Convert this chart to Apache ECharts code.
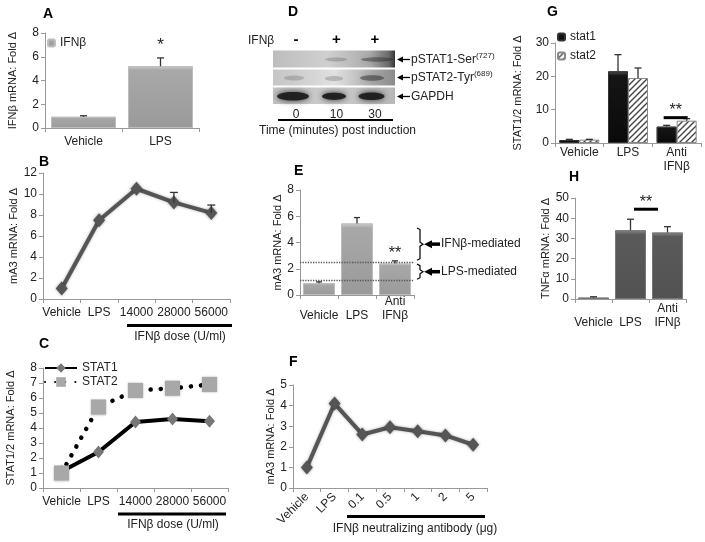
<!DOCTYPE html>
<html>
<head>
<meta charset="UTF-8">
<title>IFNb figure</title>
<script src="https://cdn.jsdelivr.net/npm/echarts@6/dist/echarts.min.js"></script>
<style>
  html, body { margin: 0; padding: 0; background: #fff; }
  #main { width: 705px; height: 542px; }
</style>
</head>
<body>
<div id="main"></div>
<script>
// ---- data ----
var aCats = ['Vehicle', 'LPS'];
var aVals = [0.95, 5.2];
var aErr = [1.03, 5.9];

var doseCats = ['Vehicle', 'LPS', '14000', '28000', '56000'];
var bVals = [1.0, 7.5, 10.5, 9.2, 8.2];
var bErr = [null, null, null, 10.15, 8.95];

var cStat1 = [1.1, 2.4, 4.4, 4.6, 4.45];
var cStat2 = [1.0, 5.4, 6.5, 6.65, 6.9];

var eCats = ['Vehicle', 'LPS', 'Anti IFNβ'];
var eVals = [0.9, 5.45, 2.4];
var eErr = [1.0, 5.9, 2.6];
var eRefs = [2.5, 1.1];

var fCats = ['Vehicle', 'LPS', '0.1', '0.5', '1', '2', '5'];
var fVals = [1.0, 4.1, 2.6, 2.95, 2.75, 2.55, 2.1];

var gCats = ['Vehicle', 'LPS', 'Anti IFNβ'];
var gStat1 = [0.9, 21.5, 4.9];
var gStat1Err = [1.1, 26.5, 5.3];
var gStat2 = [1.0, 19.5, 6.7];
var gStat2Err = [1.1, 22.5, 7.3];

var hCats = ['Vehicle', 'LPS', 'Anti IFNβ'];
var hVals = [0.7, 34, 32.9];
var hErr = [1.1, 39.5, 35.8];

var blotTimes = ['0', '10', '30'];
var blotSigns = ['-', '+', '+'];

var FONT = 'Liberation Sans, Arial, sans-serif';
var chart = echarts.init(document.getElementById('main'));

// hatch pattern for stat2
var hatch = document.createElement('canvas');
hatch.width = 6; hatch.height = 6;
var hc = hatch.getContext('2d');
hc.fillStyle = '#fff'; hc.fillRect(0, 0, 6, 6);
hc.strokeStyle = '#444'; hc.lineWidth = 1.4;
hc.beginPath();
hc.moveTo(-1, 7); hc.lineTo(7, -1);
hc.moveTo(-4, 4); hc.lineTo(4, -4);
hc.moveTo(2, 10); hc.lineTo(10, 2);
hc.stroke();

function grad(top, mid, bot) {
    return new echarts.graphic.LinearGradient(0, 0, 0, 1, [
        {offset: 0, color: top}, {offset: 0.06, color: mid}, {offset: 1, color: bot}
    ]);
}

function yAx(grid, max, interval, name, gap) {
    return {
        type: 'value', gridIndex: grid, min: 0, max: max, interval: interval,
        name: name, nameLocation: 'middle', nameGap: gap, nameRotate: 90,
        nameTextStyle: {fontSize: 11, color: '#222', fontFamily: FONT},
        axisLine: {show: true, lineStyle: {color: '#999'}},
        axisTick: {show: true, length: 4, lineStyle: {color: '#999'}},
        axisLabel: {fontSize: 12, color: '#222', fontFamily: FONT, margin: 6},
        splitLine: {show: false}
    };
}

function xAx(grid, cats, fmt, margin, lh, rotate) {
    return {
        type: 'category', gridIndex: grid, data: cats,
        axisLine: {show: true, lineStyle: {color: '#999'}},
        axisTick: {show: true, length: 4, lineStyle: {color: '#999'}},
        axisLabel: {
            fontSize: 12, color: '#222', fontFamily: FONT, margin: margin, interval: 0,
            lineHeight: lh || 14, rotate: rotate || 0, formatter: fmt
        }
    };
}

function bottomAlign(v) {
    return v.indexOf(' ') > 0 ? v.replace(' ', '\n') : '\n' + v;
}
function topAlign(v) {
    return v.replace(' ', '\n');
}

function errSeries(axis, vals, errs, offset, capW) {
    var data = [];
    vals.forEach(function (v, i) {
        if (errs[i] != null) data.push([i, v, errs[i]]);
    });
    return {
        type: 'custom', xAxisIndex: axis, yAxisIndex: axis, silent: true, z: 5,
        data: data, encode: {x: 0, y: [1, 2]},
        renderItem: function (params, api) {
            var a = api.coord([api.value(0), api.value(1)]);
            var b = api.coord([api.value(0), api.value(2)]);
            var x = a[0] + offset;
            return {
                type: 'group', children: [
                    {type: 'line', shape: {x1: x, y1: a[1], x2: x, y2: b[1]}, style: {stroke: '#333', lineWidth: 1.3}},
                    {type: 'line', shape: {x1: x - capW / 2, y1: b[1], x2: x + capW / 2, y2: b[1]}, style: {stroke: '#333', lineWidth: 1.3}}
                ]
            };
        }
    };
}

var lightBar = {color: grad('#d0d0d0', '#a8a8a8', '#9a9a9a'), borderColor: '#bdbdbd', borderWidth: 1};
var darkBar = {color: grad('#8a8a8a', '#5a5a5a', '#525252'), borderColor: '#777', borderWidth: 1};
var blackBar = {color: grad('#555', '#151515', '#0a0a0a'), borderColor: '#333', borderWidth: 1};

var option = {
    animation: false,
    textStyle: {fontFamily: FONT},
    grid: [
        {left: 45, top: 33, width: 154, height: 95},   // A
        {left: 43, top: 173, width: 187, height: 126}, // B
        {left: 43, top: 368, width: 185, height: 120}, // C
        {left: 300, top: 190, width: 114, height: 105},// E
        {left: 293, top: 385, width: 194, height: 103},// F
        {left: 555, top: 43, width: 146, height: 100}, // G
        {left: 575, top: 198, width: 111, height: 101} // H
    ],
    xAxis: [
        xAx(0, aCats, null, 7),
        xAx(1, doseCats, null, 7),
        xAx(2, doseCats, null, 7),
        xAx(3, eCats, bottomAlign, 0, 13.5),
        xAx(4, fCats, null, 7, 14, 45),
        xAx(5, gCats, topAlign, 3, 13.5),
        xAx(6, hCats, bottomAlign, 3, 14)
    ],
    yAxis: [
        yAx(0, 8, 2, 'IFNβ mRNA: Fold Δ', 27),
        yAx(1, 12, 2, 'mA3 mRNA: Fold Δ', 24),
        yAx(2, 8, 1, 'STAT1/2 mRNA: Fold Δ', 27),
        yAx(3, 8, 2, 'mA3 mRNA: Fold Δ', 16),
        yAx(4, 5, 1, 'mA3 mRNA: Fold Δ', 14),
        yAx(5, 30, 10, 'STAT1/2 mRNA: Fold Δ', 32),
        yAx(6, 50, 10, 'TNFα mRNA: Fold Δ', 22)
    ],
    legend: [
        {data: ['IFNβ'], left: 45, top: 35, itemWidth: 7, itemHeight: 7, itemGap: 4, padding: 2,
         textStyle: {fontSize: 12, color: '#222'}},
        {data: ['STAT1', 'STAT2'], orient: 'vertical', left: 42, top: 360, itemWidth: 32, itemHeight: 12, itemGap: 2, padding: 2,
         textStyle: {fontSize: 12, color: '#222'}},
        {data: ['stat1', 'stat2'], orient: 'vertical', left: 555, top: 29, itemWidth: 7, itemHeight: 7, itemGap: 7, padding: 2,
         textStyle: {fontSize: 12, color: '#222'}}
    ],
    series: [
        {name: 'IFNβ', type: 'bar', xAxisIndex: 0, yAxisIndex: 0, data: aVals, barWidth: 65, itemStyle: lightBar},
        errSeries(0, aVals, aErr, 0, 7),

        {name: 'mA3 dose', type: 'line', xAxisIndex: 1, yAxisIndex: 1, data: bVals,
         symbol: 'diamond', symbolSize: [12, 14],
         lineStyle: {color: '#555', width: 4, shadowBlur: 3, shadowColor: 'rgba(0,0,0,0.3)'},
         itemStyle: {color: '#555', shadowBlur: 3, shadowColor: 'rgba(0,0,0,0.4)'}},
        errSeries(1, bVals, bErr, 0, 8),

        {name: 'STAT1', type: 'line', xAxisIndex: 2, yAxisIndex: 2, data: cStat1,
         symbol: 'diamond', symbolSize: [11, 13],
         lineStyle: {color: '#000', width: 4},
         itemStyle: {color: '#777'}},
        {name: 'STAT2', type: 'line', xAxisIndex: 2, yAxisIndex: 2, data: cStat2,
         symbol: 'rect', symbolSize: 15,
         lineStyle: {color: '#000', width: 4.5, type: [0.1, 10], cap: 'round'},
         itemStyle: {color: '#a8a8a8', shadowBlur: 2, shadowColor: 'rgba(0,0,0,0.3)'}},

        {name: 'mA3 anti', type: 'bar', xAxisIndex: 3, yAxisIndex: 3, data: eVals, barWidth: 32, itemStyle: lightBar,
         markLine: {symbol: 'none', silent: true, label: {show: false},
                    lineStyle: {type: 'dotted', color: '#555', width: 1.3},
                    data: eRefs.map(function (v) { return {yAxis: v}; })}},
        errSeries(3, eVals, eErr, 0, 6),

        {name: 'mA3 ab', type: 'line', xAxisIndex: 4, yAxisIndex: 4, data: fVals,
         symbol: 'diamond', symbolSize: [12, 14],
         lineStyle: {color: '#555', width: 4, shadowBlur: 3, shadowColor: 'rgba(0,0,0,0.3)'},
         itemStyle: {color: '#555', shadowBlur: 3, shadowColor: 'rgba(0,0,0,0.4)'}},

        {name: 'stat1', type: 'bar', xAxisIndex: 5, yAxisIndex: 5, data: gStat1, barWidth: 20, barGap: '0%', itemStyle: blackBar},
        {name: 'stat2', type: 'bar', xAxisIndex: 5, yAxisIndex: 5, data: gStat2, barWidth: 20, barGap: '0%',
         itemStyle: {color: {image: hatch, repeat: 'repeat'}, borderColor: '#888', borderWidth: 1}},
        errSeries(5, gStat1, gStat1Err, -10, 7),
        errSeries(5, gStat2, gStat2Err, 10, 7),

        {name: 'TNFa', type: 'bar', xAxisIndex: 6, yAxisIndex: 6, data: hVals, barWidth: 31, itemStyle: darkBar},
        errSeries(6, hVals, hErr, 0, 7)
    ]
};
chart.setOption(option);

// ---- annotations ----
function px(g, x, y) { return chart.convertToPixel({gridIndex: g}, [x, y]); }
function txt(x, y, s, o) {
    o = o || {};
    return {type: 'text', x: x, y: y, silent: true, z: 10, style: {
        text: s, fontSize: o.size || 12, fontWeight: o.weight || 'normal', fontFamily: FONT,
        fill: o.fill || '#222', align: o.align || 'left', verticalAlign: 'middle', rich: o.rich
    }};
}
function ln(x1, y1, x2, y2, w, c) {
    return {type: 'line', silent: true, z: 10, shape: {x1: x1, y1: y1, x2: x2, y2: y2},
            style: {stroke: c || '#000', lineWidth: w}};
}
function arrow(xTip, y, len, head, w) {
    return [
        ln(xTip + head * 0.8, y, xTip + len, y, w),
        {type: 'polygon', silent: true, z: 10,
         shape: {points: [[xTip, y], [xTip + head, y - head / 2], [xTip + head, y + head / 2]]},
         style: {fill: '#000'}}
    ];
}

var gfx = [];
// panel letters
[['A', 43, 14], ['B', 39, 162], ['C', 39, 344], ['D', 288, 12],
 ['E', 294, 171], ['F', 289, 362], ['G', 547, 12], ['H', 569, 177]].forEach(function (p) {
    gfx.push(txt(p[1], p[2], p[0], {size: 14, weight: 'bold', fill: '#000'}));
});

// A significance
var pA = px(0, 1, aErr[1]);
gfx.push(txt(pA[0], pA[1] - 13, '*', {size: 17, align: 'center'}));

// dose underlines
gfx.push(ln(127, 325.5, 232, 325.5, 3));
gfx.push(txt(180, 337, 'IFNβ dose (U/ml)', {align: 'center'}));
gfx.push(ln(118, 514, 226, 514, 3));
gfx.push(txt(173, 525, 'IFNβ dose (U/ml)', {align: 'center'}));
gfx.push(ln(347, 516.5, 485, 516.5, 3));
gfx.push(txt(415, 529, 'IFNβ neutralizing antibody (μg)', {align: 'center'}));

// E: significance, brackets, arrows
var pE = px(3, 2, eErr[2]);
gfx.push(txt(pE[0], pE[1] - 7, '**', {size: 16, align: 'center'}));
var bx = 417;
function brace(yTop, yBot) {
    var mid = (yTop + yBot) / 2;
    return {type: 'polyline', silent: true, z: 10, shape: {points: [
        [bx, yTop], [bx + 3, yTop + 1.5], [bx + 3, mid - 2], [bx + 6, mid], [bx + 3, mid + 2],
        [bx + 3, yBot - 1.5], [bx, yBot]]}, style: {stroke: '#000', lineWidth: 1.2, fill: null}};
}
var b1t = px(3, 2, 5.1)[1], b1b = px(3, 2, 2.65)[1];
var b2t = px(3, 2, 2.35)[1], b2b = px(3, 2, 1.2)[1];
gfx.push(brace(b1t, b1b), brace(b2t, b2b));
var m1 = (b1t + b1b) / 2, m2 = (b2t + b2b) / 2;
gfx = gfx.concat(arrow(424, m1, 16, 8, 3.5), arrow(424, m2, 16, 8, 3.5));
gfx.push(txt(441, m1, 'IFNβ-mediated'), txt(441, m2, 'LPS-mediated'));

// G significance
var gA = px(5, 2, gStat2Err[2]);
var gMid = px(5, 2, 0)[0];
gfx.push(ln(gMid - 13, gA[1] - 1, gMid + 11, gA[1] - 1, 3));
gfx.push(txt(gMid - 1, gA[1] - 8, '**', {size: 16, align: 'center'}));

// H significance
var hL = px(6, 1, hErr[1]), hR = px(6, 2, hErr[2]);
var hMid = (hL[0] + hR[0]) / 2 - 3;
gfx.push(ln(hMid - 12, hL[1] - 10, hMid + 12, hL[1] - 10, 3));
gfx.push(txt(hMid, hL[1] - 17, '**', {size: 16, align: 'center'}));

// D: western blot sketch
var lanes = [296, 336.5, 375];
gfx.push(txt(248, 41, 'IFNβ', {size: 12}));
blotSigns.forEach(function (s, i) {
    gfx.push(txt(lanes[i], 40, s, {size: 15, weight: 'bold', align: 'center', fill: '#000'}));
});
function strip(y, h, stops) {
    return {type: 'rect', silent: true, z: 8, shape: {x: 273, y: y, width: 122, height: h},
            style: {fill: new echarts.graphic.LinearGradient(0, 0, 1, 0, stops)}};
}
function band(cx, cy, rx, ry, a) {
    return {type: 'ellipse', silent: true, z: 9, shape: {cx: cx, cy: cy, rx: rx, ry: ry},
            style: {fill: 'rgba(30,30,30,' + a + ')', shadowBlur: 6, shadowColor: 'rgba(30,30,30,' + a + ')'}};
}
gfx.push(strip(50.5, 17, [{offset: 0, color: '#bdbdbd'}, {offset: 0.45, color: '#d0d0d0'},
                          {offset: 0.8, color: '#aaaaaa'}, {offset: 0.95, color: '#6a6a6a'}, {offset: 1, color: '#333'}]));
gfx.push(strip(69.5, 16, [{offset: 0, color: '#c6c6c6'}, {offset: 0.35, color: '#d6d6d6'}, {offset: 0.5, color: '#e2e2e2'},
                          {offset: 0.75, color: '#b8b8b8'}, {offset: 1, color: '#8a8a8a'}]));
gfx.push(strip(87.5, 16.5, [{offset: 0, color: '#c2c2c2'}, {offset: 0.5, color: '#cbcbcb'}, {offset: 1, color: '#b8b8b8'}]));
gfx.push(band(336, 59.5, 11, 2, 0.2), band(377, 59.5, 16, 2.2, 0.4));
gfx.push(band(294, 78, 10, 2.5, 0.18), band(334, 78.5, 9, 2.5, 0.2), band(372, 78, 12, 2.8, 0.45));
gfx.push(band(293, 96.3, 16, 4.3, 0.95), band(334, 96.3, 12, 3.6, 0.95), band(371.5, 96.3, 13, 3.8, 0.95));
var blotLabels = [[59.5, '{n|pSTAT1-Ser}{s|(727)}'], [77.5, '{n|pSTAT2-Tyr}{s|(689)}'], [96.5, '{n|GAPDH}']];
blotLabels.forEach(function (l) {
    gfx = gfx.concat(arrow(397, l[0], 13, 6, 1.3));
    gfx.push(txt(411, l[0], l[1], {rich: {
        n: {fontSize: 12, fontFamily: FONT, fill: '#222'},
        s: {fontSize: 8, fontFamily: FONT, fill: '#222', padding: [0, 0, 7, 0]}
    }}));
});
blotTimes.forEach(function (t, i) {
    gfx.push(txt(lanes[i], 114.5, t, {align: 'center'}));
});
gfx.push(ln(278, 120, 393, 120, 2));
gfx.push(txt(337.5, 130.5, 'Time (minutes) post induction', {align: 'center'}));

chart.setOption({graphic: gfx});
</script>
</body>
</html>
